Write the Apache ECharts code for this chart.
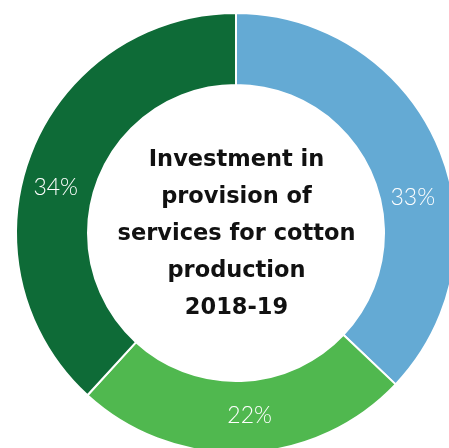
<!DOCTYPE html>
<html>
<head>
<meta charset="utf-8">
<script src="https://cdn.jsdelivr.net/npm/echarts@6/dist/echarts.min.js"></script>
<style>
html,body{margin:0;padding:0;background:#fff;}
#chart{width:449px;height:448px;}
</style>
</head>
<body>
<div id="chart"></div>
<script>
const categories = ['Service A', 'Service B', 'Service C'];
const values = [33, 22, 34];
const colors = ['#64AAD4', '#50B84F', '#0E6B37'];
const centerTitle = 'Investment in\nprovision of\nservices for cotton\nproduction\n2018-19';

const labelShift = [[5, 38], [7, -4], [-6, 22]];

const chart = echarts.init(document.getElementById('chart'), null, {renderer: 'canvas'});
chart.setOption({
  animation: false,
  backgroundColor: '#ffffff',
  title: {
    text: centerTitle,
    left: 231.5,
    top: 137,
    textAlign: 'center',
    textStyle: {
      fontFamily: 'DejaVu Sans',
      fontWeight: 'bold',
      fontSize: 22.5,
      lineHeight: 37,
      color: '#111111'
    }
  },
  series: [{
    type: 'pie',
    center: [236, 233],
    radius: [148, 220],
    startAngle: 90,
    clockwise: true,
    avoidLabelOverlap: false,
    itemStyle: {borderColor: '#ffffff', borderWidth: 2},
    label: {
      show: true,
      position: 'inside',
      color: '#ffffff',
      fontFamily: 'Lato',
      fontWeight: 300,
      fontSize: 23,
      formatter: p => p.value + '%'
    },
    labelLine: {show: false},
    emphasis: {disabled: true},
    data: categories.map((c, i) => ({
      name: c,
      value: values[i],
      itemStyle: {color: colors[i]},
      label: {offset: labelShift[i]}
    }))
  }]
});
</script>
</body>
</html>
